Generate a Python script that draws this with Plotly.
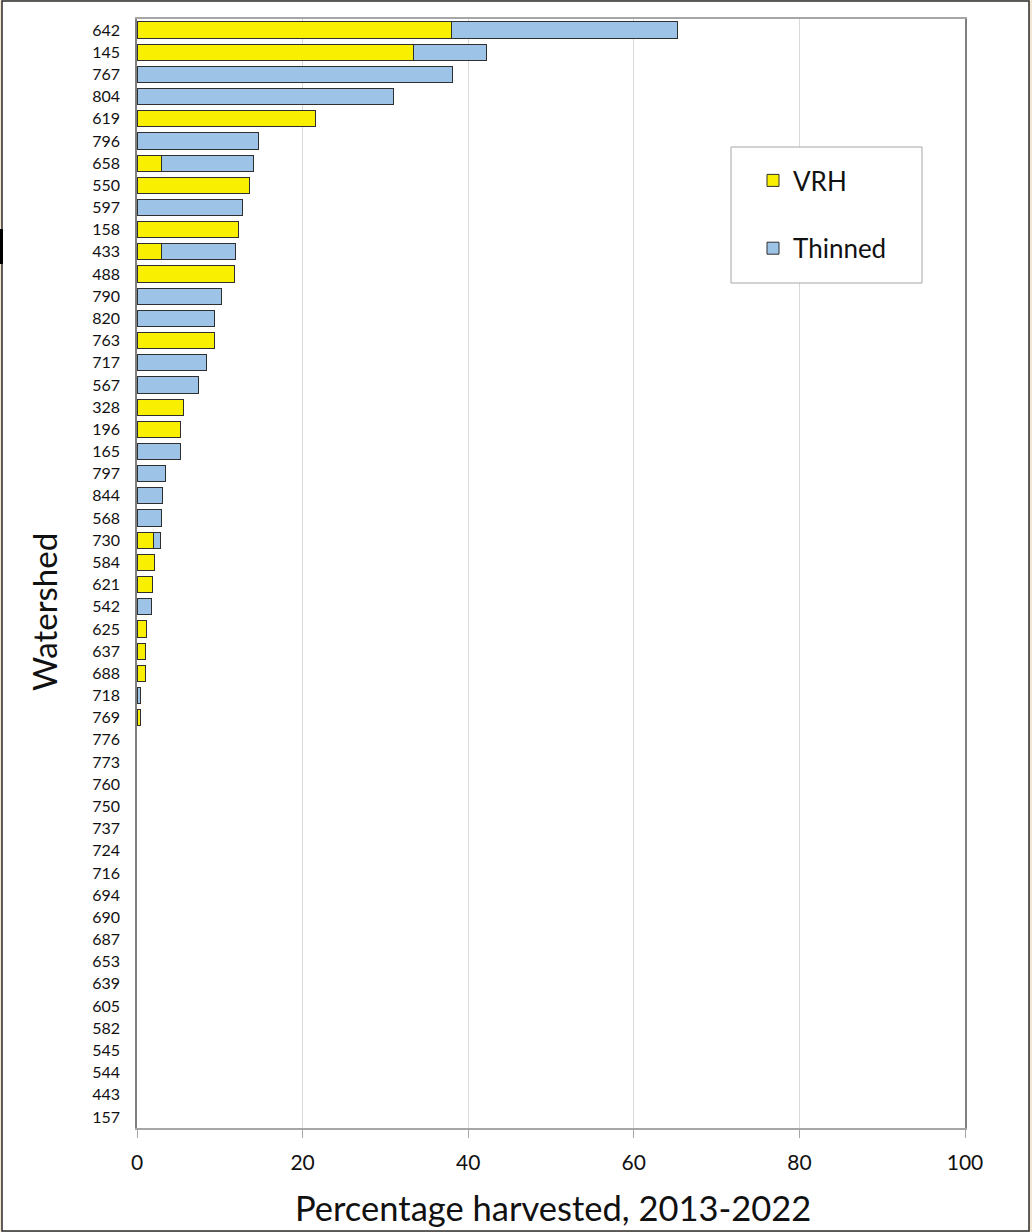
import plotly.graph_objects as go

watersheds = ["642", "145", "767", "804", "619", "796", "658", "550", "597", "158",
              "433", "488", "790", "820", "763", "717", "567", "328", "196", "165",
              "797", "844", "568", "730", "584", "621", "542", "625", "637", "688",
              "718", "769", "776", "773", "760", "750", "737", "724", "716", "694",
              "690", "687", "653", "639", "605", "582", "545", "544", "443", "157"]

vrh = [38.0, 33.4, 0, 0, 21.6, 0, 2.9, 13.6, 0, 12.2,
       3.0, 11.8, 0, 0, 9.3, 0, 0, 5.6, 5.3, 0,
       0, 0, 0, 2.0, 2.1, 1.9, 0, 1.1, 1.0, 1.0,
       0, 0.45, 0, 0, 0, 0, 0, 0, 0, 0,
       0, 0, 0, 0, 0, 0, 0, 0, 0, 0]

thinned = [27.3, 8.8, 38.1, 31.0, 0, 14.7, 11.2, 0, 12.8, 0,
           8.9, 0, 10.2, 9.4, 0, 8.4, 7.4, 0, 0, 5.2,
           3.5, 3.1, 2.9, 0.85, 0, 0, 1.7, 0, 0, 0,
           0.45, 0, 0, 0, 0, 0, 0, 0, 0, 0,
           0, 0, 0, 0, 0, 0, 0, 0, 0, 0]

x_ticks = [0, 20, 40, 60, 80, 100]

FONT = "Lato, 'Open Sans', sans-serif"
W, H = 1032, 1232
L, R, T, B = 137, 965, 19, 1128
PW, PH = R - L, B - T


def px(x):
    return (x - L) / PW


def py(y):
    return 1 - (y - T) / PH


def nz(vals):
    # zero-length segments are not drawn in the reference
    return [v if v else None for v in vals]


fig = go.Figure()
fig.add_trace(go.Bar(
    y=watersheds, x=nz(vrh), name="VRH", orientation="h",
    marker=dict(color="#f8f000", line=dict(color="#2f2f2f", width=1)),
    legendgroup="a",
))
fig.add_trace(go.Bar(
    y=watersheds, x=nz(thinned), name="Thinned", orientation="h",
    marker=dict(color="#9dc3e6", line=dict(color="#2f2f2f", width=1)),
    legendgroup="b",
))

fig.update_layout(
    width=W, height=H,
    margin=dict(l=L, r=W - R, t=T, b=H - B, pad=0),
    barmode="stack",
    bargap=0.27,
    paper_bgcolor="#f3e7d3",
    plot_bgcolor="white",
    font=dict(family=FONT, color="#1a1a1a"),
    showlegend=True,
    legend=dict(
        x=px(753), y=py(157), xanchor="left", yanchor="top",
        borderwidth=0, bgcolor="rgba(0,0,0,0)",
        font=dict(size=26, family=FONT, color="#111111"),
        traceorder="grouped", tracegroupgap=31,
        itemwidth=30,
    ),
    xaxis=dict(
        range=[0, 100], tickvals=x_ticks, showgrid=True, gridcolor="#d9d9d9",
        gridwidth=1, zeroline=False, showline=True, linecolor="#a6a6a6",
        linewidth=1.5, mirror=True, ticks="outside", ticklen=8, tickcolor="#a6a6a6",
        tickfont=dict(size=21, family=FONT, color="#111111"),
        ticklabelstandoff=7,
    ),
    yaxis=dict(
        type="category", categoryorder="array", categoryarray=watersheds,
        autorange="reversed", showgrid=False, zeroline=False, showline=True,
        linecolor="#7f7f7f", linewidth=1.5, mirror=True, ticks="",
        tickfont=dict(size=16, family=FONT, color="#111111"),
        ticklabelstandoff=12,
    ),
    shapes=[
        dict(type="rect", xref="paper", yref="paper", layer="below",
             x0=px(2), x1=px(1029), y0=py(1231), y1=py(1),
             line=dict(color="#2b2b2b", width=1.5), fillcolor="white"),
        dict(type="rect", xref="paper", yref="paper", layer="above",
             x0=px(0), x1=px(3), y0=py(264), y1=py(229),
             line=dict(width=0), fillcolor="black"),
        # legend frame
        dict(type="rect", xref="paper", yref="paper", layer="above",
             x0=px(731), x1=px(922), y0=py(283), y1=py(147),
             line=dict(color="#a6a6a6", width=1), fillcolor="white"),
    ],
    annotations=[
        dict(text="Percentage harvested, 2013-2022", xref="paper", yref="paper",
             x=px(553), y=py(1207), xanchor="center", yanchor="middle",
             showarrow=False, font=dict(size=34.5, family=FONT, color="#111111")),
        dict(text="Watershed", xref="paper", yref="paper", textangle=-90,
             x=px(44), y=py(612), xanchor="center", yanchor="middle",
             showarrow=False, font=dict(size=33, family=FONT, color="#111111")),
    ],
)

fig.write_html("out.html", config={"displayModeBar": False},
               post_script="document.body.style.margin='0';")
